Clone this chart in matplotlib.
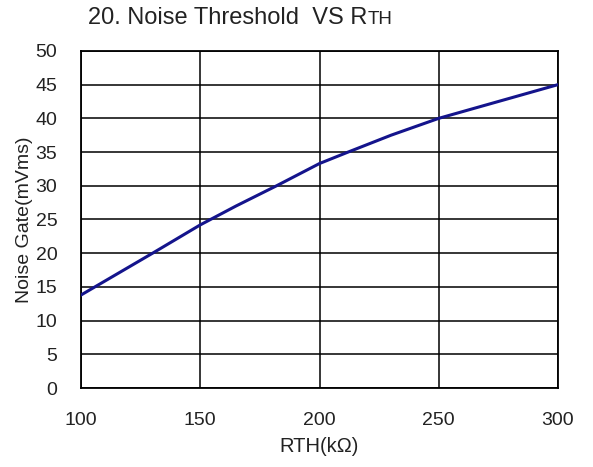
import numpy as np
import matplotlib
matplotlib.use("Agg")
import matplotlib.pyplot as plt

# values
rth = [100, 115, 130, 150, 165, 182, 200, 212, 230, 250, 275, 300]
noise_gate = [13.8, 16.9, 20.0, 24.2, 27.0, 30.0, 33.3, 35.0, 37.5, 40.0, 42.5, 45.0]

x_ticks = [100, 150, 200, 250, 300]
y_ticks = list(range(0, 55, 5))

plt.rcParams['font.family'] = ['Liberation Sans', 'DejaVu Sans']

fig = plt.figure(figsize=(5.93, 4.67), dpi=100)
ax = fig.add_axes([0.1366, 0.169, 0.8044, 0.722])

ax.plot(rth, noise_gate, color='#14148c', linewidth=2.2, zorder=3)

ax.set_xlim(100, 300)
ax.set_ylim(0, 50)
ax.set_xticks(x_ticks)
ax.set_yticks(y_ticks)
ax.grid(True, color='black', linewidth=1.1)
for s in ax.spines.values():
    s.set_linewidth(1.3)
ax.tick_params(length=0, labelsize=14, labelcolor='#222222')
ax.tick_params(axis='x', pad=17)
ax.tick_params(axis='y', pad=17)

ax.set_xlabel('RTH(kΩ)', fontsize=14.5, color='#222222', labelpad=6)
ax.set_ylabel('Noise Gate(mVms)', fontsize=14, color='#222222', labelpad=2)

# title with small "TH"
t = fig.text(88 / 593, 1 - 18 / 467, '20. Noise Threshold  VS R', fontsize=17,
             va='center', ha='left', color='#222222')
fig.canvas.draw()
bb = t.get_window_extent()
fig.text(bb.x1 / fig.bbox.width, 1 - 19 / 467, 'TH', fontsize=13.5,
         va='center', ha='left', color='#222222')

plt.savefig('out.png', dpi=100)
